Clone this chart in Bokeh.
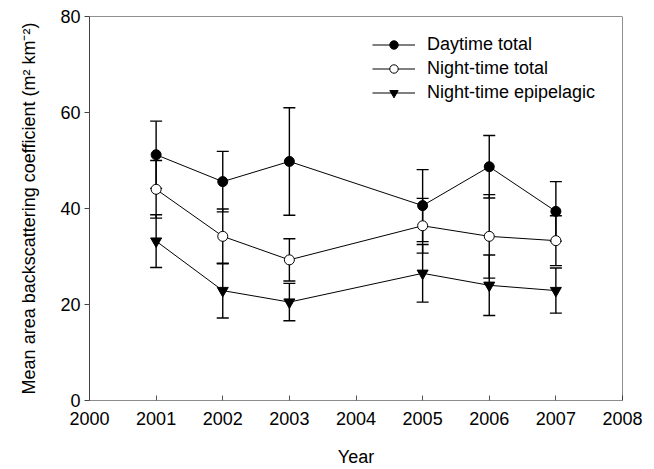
from bokeh.plotting import figure
from bokeh.models import (ColumnDataSource, FixedTicker, Whisker, TeeHead,
                          Legend, LegendItem, Span)
from bokeh.embed import file_html
from bokeh.resources import INLINE

# Survey years and mean area backscattering coefficients (m^2 km^-2)
years = [2001, 2002, 2003, 2005, 2006, 2007]
day_total = [51.2, 45.6, 49.8, 40.6, 48.7, 39.4]
day_err = [7.0, 6.3, 11.2, 7.5, 6.5, 6.2]
night_total = [44.0, 34.2, 29.3, 36.4, 34.2, 33.3]
night_err = [6.0, 5.7, 4.4, 5.7, 8.7, 5.2]
night_epi = [33.2, 22.9, 20.5, 26.5, 24.0, 22.9]
epi_err = [5.5, 5.7, 3.9, 6.0, 6.3, 4.7]

x_ticks = [2000, 2001, 2002, 2003, 2004, 2005, 2006, 2007, 2008]
y_ticks = [0, 20, 40, 60, 80]

FONT = "Liberation Sans"
FS = "18px"

p = figure(width=654, height=469, x_range=(2000, 2008), y_range=(0, 80),
           output_backend="svg", toolbar_location=None,
           min_border_left=89, min_border_right=32,
           min_border_top=16, min_border_bottom=69)
p.grid.visible = False
p.outline_line_color = None
p.background_fill_color = "white"
p.border_fill_color = "white"

# top and right edges of the box
p.add_layout(Span(location=80, dimension="width", line_color="#222222", line_width=1))
p.add_layout(Span(location=2008, dimension="height", line_color="#222222", line_width=1))

p.xaxis.ticker = FixedTicker(ticks=x_ticks)
p.yaxis.ticker = FixedTicker(ticks=y_ticks)
p.xaxis.minor_tick_line_color = None
p.yaxis.minor_tick_line_color = None
p.xaxis.major_tick_in = 5
p.xaxis.major_tick_out = 0
p.yaxis.major_tick_in = 0
p.yaxis.major_tick_out = 5
for ax in (p.xaxis, p.yaxis):
    ax.major_label_text_font = FONT
    ax.major_label_text_font_size = FS
    ax.major_label_text_color = "black"
    ax.axis_label_text_font = FONT
    ax.axis_label_text_font_size = FS
    ax.axis_label_text_font_style = "normal"
    ax.axis_label_text_color = "black"
p.xaxis.axis_line_color = "#8c8c8c"
p.xaxis.major_tick_line_color = "#555555"
p.yaxis.axis_line_color = "#444444"
p.yaxis.major_tick_line_color = "#444444"
p.xaxis.axis_label = "Year"
p.yaxis.axis_label = "Mean area backscattering coefficient (m\u00b2 km\u207b\u00b2)"
p.xaxis.major_label_standoff = 11
p.xaxis.axis_label_standoff = 19
p.yaxis.major_label_standoff = 4
p.yaxis.axis_label_standoff = 18

series = [
    (day_total, day_err, "circle", "black", "Daytime total"),
    (night_total, night_err, "circle", "white", "Night-time total"),
    (night_epi, epi_err, "inverted_triangle", "black", "Night-time epipelagic"),
]

# error bars first, so markers sit on top of them
for vals, errs, _, _, _ in series:
    src = ColumnDataSource(dict(
        x=years,
        lower=[v - e for v, e in zip(vals, errs)],
        upper=[v + e for v, e in zip(vals, errs)],
    ))
    p.add_layout(Whisker(source=src, base="x", lower="lower", upper="upper",
                         line_color="black", line_width=1.4,
                         lower_head=TeeHead(size=12, line_color="black", line_width=1.4),
                         upper_head=TeeHead(size=12, line_color="black", line_width=1.4)))

items = []
for vals, errs, marker, fill, label in series:
    src = ColumnDataSource(dict(x=years, y=vals))
    ln = p.line("x", "y", source=src, line_color="black", line_width=1)
    size = 10 if marker == "circle" else 11
    sc = p.scatter("x", "y", source=src, marker=marker, size=size,
                   fill_color=fill, line_color="black", line_width=1)
    items.append(LegendItem(label=label, renderers=[ln, sc]))

legend = Legend(items=items, location=(283, 297), orientation="vertical",
                glyph_width=43, glyph_height=21, label_height=21,
                label_standoff=12, spacing=3, padding=5, margin=0,
                label_text_font=FONT, label_text_font_size=FS,
                label_text_color="black",
                border_line_color=None, background_fill_alpha=0)
p.add_layout(legend)

open("out.html", "w").write(file_html(p, INLINE))
